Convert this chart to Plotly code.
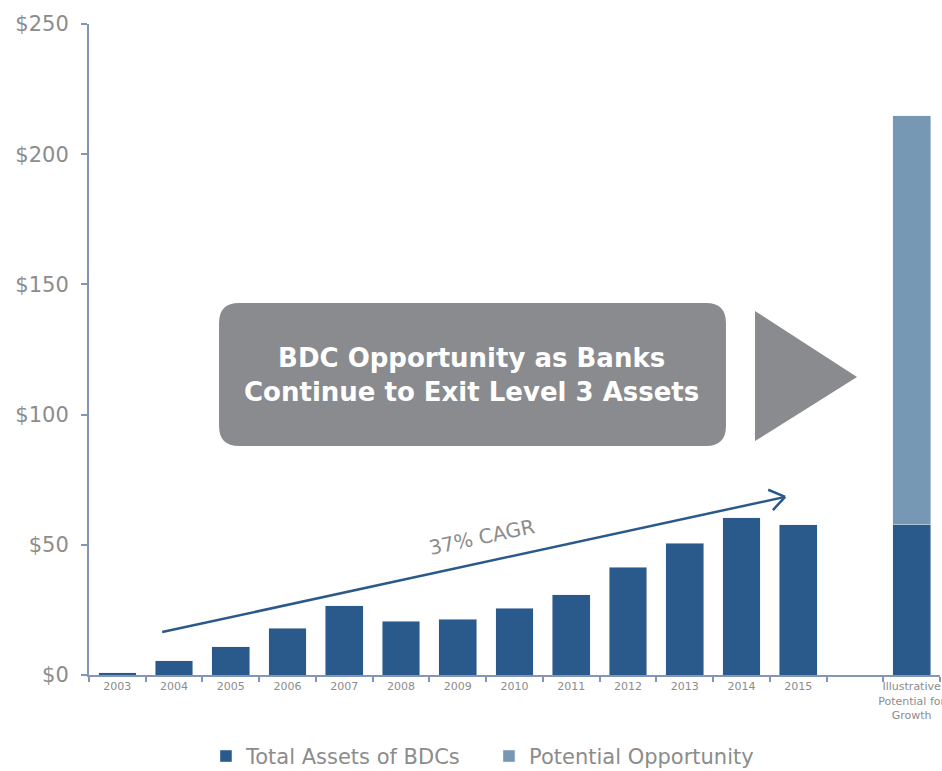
import plotly.graph_objects as go

categories = ["2003", "2004", "2005", "2006", "2007", "2008", "2009", "2010",
              "2011", "2012", "2013", "2014", "2015", " ",
              "Illustrative<br>Potential for<br>Growth"]
total_assets = [0.8, 5.4, 10.8, 18.0, 26.5, 20.7, 21.5, 25.7, 30.8, 41.4,
                50.6, 60.4, 57.7, None, 57.7]
potential = [None] * 14 + [157.0]

DARK = "#2a598b"
LIGHT = "#7698b5"
AXIS = "#8496b8"
TXT = "#8c8c8c"
FONT = "DejaVu Sans"

fig = go.Figure()
fig.add_trace(go.Bar(x=categories, y=total_assets, name="Total Assets of BDCs",
                     marker_color=DARK))
fig.add_trace(go.Bar(x=categories, y=potential, name="Potential Opportunity",
                     marker_color=LIGHT))

# CAGR arrow
x_start, y_start, x_end, y_end = 0.79, 16.5, 11.77, 68.4
fig.add_shape(type="line", xref="x", yref="y", x0=x_start, y0=y_start,
              x1=x_end, y1=y_end, line=dict(color=DARK, width=2.5))
for ax, ay in [(-13.6, 14.7), (-18.4, -7.8)]:
    fig.add_annotation(x=x_end, y=y_end, xref="x", yref="y", text="",
                       showarrow=True, arrowhead=0, arrowwidth=2.5,
                       arrowcolor=DARK, ax=ax, ay=ay, standoff=0)
fig.add_annotation(x=6.43, y=53, xref="x", yref="y", text="37% CAGR",
                   showarrow=False, textangle=-12,
                   font=dict(family=FONT, size=20, color=TXT))

# Callout box
x0, x1, y0, y1 = 0.1528, 0.7485, 0.3518, 0.5714
rx, ry = 0.0235, 0.0307
path = (f"M {x0+rx},{y0} L {x1-rx},{y0} Q {x1},{y0} {x1},{y0+ry} "
        f"L {x1},{y1-ry} Q {x1},{y1} {x1-rx},{y1} L {x0+rx},{y1} "
        f"Q {x0},{y1} {x0},{y1-ry} L {x0},{y0+ry} Q {x0},{y0} {x0+rx},{y0} Z")
fig.add_shape(type="path", xref="paper", yref="paper", path=path,
              fillcolor="#8a8b8e", line=dict(width=0), layer="above")
fig.add_shape(type="path", xref="paper", yref="paper",
              path="M 0.7826,0.5591 L 0.9025,0.4578 L 0.7826,0.3594 Z",
              fillcolor="#8a8b8e", line=dict(width=0), layer="above")
fig.add_annotation(x=0.45, y=0.461, xref="paper", yref="paper",
                   text="<b>BDC Opportunity as Banks<br>Continue to Exit Level 3 Assets</b>",
                   showarrow=False, font=dict(family=FONT, size=26, color="white"))

fig.update_layout(
    width=942, height=771,
    margin=dict(l=89, r=2, t=24, b=96, autoexpand=False),
    barmode="stack", bargap=0.335,
    plot_bgcolor="white", paper_bgcolor="white",
    font=dict(family=FONT, color=TXT),
    showlegend=True,
    legend=dict(orientation="h", x=0.47, xanchor="center", y=-0.125,
                yanchor="middle", font=dict(size=21, color=TXT),
                traceorder="normal", entrywidth=238, itemwidth=30),
    xaxis=dict(type="category", showline=True, linecolor=AXIS, linewidth=2,
               ticks="outside", tickson="boundaries", ticklen=5,
               tickcolor=AXIS, tickwidth=1.5, showgrid=False, tickangle=0,
               automargin=False, tickfont=dict(size=11, color=TXT)),
    yaxis=dict(range=[0, 250], dtick=50, tickprefix="$", showline=True,
               linecolor=AXIS, linewidth=2, ticks="outside", ticklen=6,
               tickcolor=AXIS, tickwidth=1.5, showgrid=False, zeroline=False,
               automargin=False, ticklabelstandoff=8,
               tickfont=dict(size=21, color=TXT)),
)

fig.write_html("out.html")
